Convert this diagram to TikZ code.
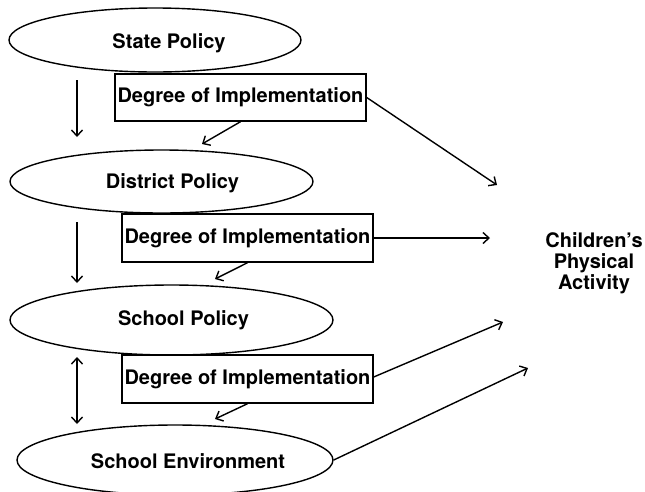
\documentclass[tikz,border=0pt]{standalone}
\usepackage{fontspec}
\setmainfont{TeX Gyre Heros}
\usetikzlibrary{arrows.meta,shapes.geometric}

\tikzset{
  level/.style={draw,ellipse,line width=1.4pt,inner sep=0pt},
  lbl/.style={font=\bfseries\fontsize{20}{21}\selectfont},
  degree/.style={draw,rectangle,line width=1.4pt,minimum width=251pt,minimum height=47pt,inner sep=0pt,lbl},
  barb/.tip={Straight Barb[length=6pt,width=11pt]},
  link/.style={-barb,line width=1.4pt},
  twoway/.style={barb-barb,line width=1.4pt},
}

\begin{document}
\begin{tikzpicture}[x=1pt,y=-1pt]
\useasboundingbox (0,0) rectangle (645,491);
% policy levels
\node[level,minimum width=292pt,minimum height=64pt,label={[lbl,xshift=14pt,yshift=-3pt]center:State Policy}] (state) at (155,40) {};
\node[level,minimum width=303pt,minimum height=63pt,label={[lbl,xshift=11pt,yshift=-2pt]center:District Policy}] (district) at (161.5,181.5) {};
\node[level,minimum width=323pt,minimum height=70pt,label={[lbl,xshift=12pt]center:School Policy}] (school) at (171.5,320) {};
\node[level,minimum width=316pt,minimum height=70pt,label={[lbl,xshift=13pt,yshift=-1pt]center:School Environment}] (env) at (175,460) {};
% implementation boxes
\node[degree] (impA) at (240.5,97.5) {Degree of Implementation};
\node[degree,minimum height=48pt] (impB) at (247.5,238) {Degree of Implementation};
\node[degree,minimum height=48pt] (impC) at (247.5,379) {Degree of Implementation};
% outcome
\node[lbl,align=center] (pa) at (594,263) {Children's\\Physical\\Activity};
% free ends
\coordinate (downAa) at (77,80);
\coordinate (downAb) at (77,137);
\coordinate (downBa) at (77,222);
\coordinate (downBb) at (77,283);
\coordinate (bothA) at (77,357);
\coordinate (bothB) at (77,424);
\coordinate (toDistrict) at (202,144);
\coordinate (toSchool) at (215,279);
\coordinate (toEnv) at (215,419);
\coordinate (paA) at (497,185);
\coordinate (paB) at (490,238);
\coordinate (paC) at (503,322);
\coordinate (paD) at (528,368);
% connectors
\draw[link] (downAa) -- (downAb);
\draw[link] (downBa) -- (downBb);
\draw[twoway] (bothA) -- (bothB);
\draw[link] (impA.south) -- (toDistrict);
\draw[link] (impB.south) -- (toSchool);
\draw[link] (impC.south) -- (toEnv);
\draw[link] (impA.east) -- (paA);
\draw[link] (impB.east) -- (paB);
\draw[link] ([yshift=2pt]impC.east) -- (paC);
\draw[link] (env.east) -- (paD);
\end{tikzpicture}
\end{document}
